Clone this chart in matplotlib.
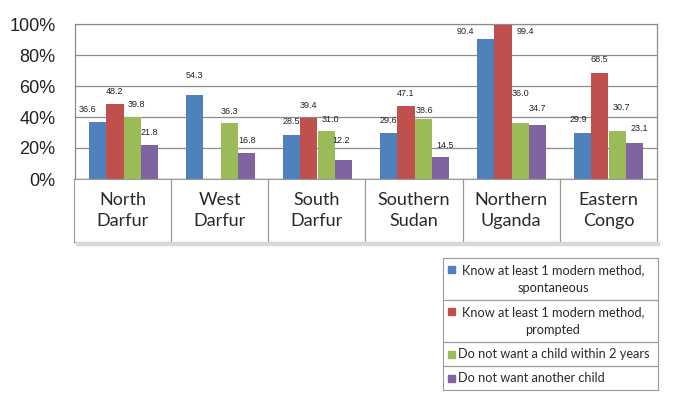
import numpy as np
import matplotlib.pyplot as plt
from matplotlib.patches import Rectangle

# data
regions = ["North\nDarfur", "West\nDarfur", "South\nDarfur",
           "Southern\nSudan", "Northern\nUganda", "Eastern\nCongo"]
know_spont = [36.6, 54.3, 28.5, 29.6, 90.4, 29.9]
know_prompt = [48.2, np.nan, 39.4, 47.1, 99.4, 68.5]
no_child_2y = [39.8, 36.3, 31.0, 38.6, 36.0, 30.7]
no_another = [21.8, 16.8, 12.2, 14.5, 34.7, 23.1]
series_names = ["Know at least 1 modern method,\nspontaneous",
                "Know at least 1 modern method,\nprompted",
                "Do not want a child within 2 years",
                "Do not want another child"]
yticks = [0, 20, 40, 60, 80, 100]

colors = ["#4F81BD", "#C0504D", "#9BBB59", "#8064A2"]
grid_c = "#8c8c8c"

# label nudges (points), a few labels sit beside the bars in the original
nudge = {(0, 4): (-14, -1), (1, 4): (16, -11), (2, 4): (0, 15), (3, 4): (0, 6),
         (0, 1): (0, 8), (2, 1): (0, 2), (0, 0): (-7, 3), (2, 0): (3, 3),
         (2, 2): (3, 2), (3, 2): (-2, 8), (0, 5): (-3, 3), (2, 5): (3, 11),
         (2, 3): (1, 0), (3, 3): (3, 2), (3, 5): (3, 4)}

fig = plt.figure(figsize=(6.85, 4.05), dpi=100)
W, H = 685, 405
ax = fig.add_axes([75 / W, (H - 179) / H, 582 / W, 155 / H])

x = np.arange(len(regions))
w = 0.18
all_series = [know_spont, know_prompt, no_child_2y, no_another]
for i, vals in enumerate(all_series):
    pos = x + (i - 1.5) * w
    ax.bar(pos, vals, w, color=colors[i], zorder=3)
    for j, v in enumerate(vals):
        if np.isnan(v):
            continue
        dx, dy = nudge.get((i, j), (0, 3))
        ax.annotate(f"{v:.1f}", (pos[j], v), xytext=(dx, dy + 3),
                    textcoords="offset points", ha="center", va="bottom",
                    fontsize=6.5, family="Liberation Sans", color="#222222",
                    annotation_clip=False)

ax.set_xlim(-0.5, len(regions) - 0.5)
ax.set_ylim(0, 100)
ax.set_yticks(yticks)
ax.set_yticklabels([f"{t}%" for t in yticks], fontsize=13,
                   family="Liberation Sans", color="#222222")
ax.set_xticks([])
ax.tick_params(axis="y", length=0, pad=14)
ax.grid(axis="y", color=grid_c, lw=0.9, zorder=0)
for s in ax.spines.values():
    s.set_color(grid_c)
    s.set_linewidth(0.9)

# category table under the plot
tab = fig.add_axes([74 / W, (H - 242) / H, 583 / W, 63 / H], sharex=ax)
tab.set_ylim(0, 1)
tab.set_xticks([])
tab.set_yticks([])
for s in tab.spines.values():
    s.set_color("#9a9a9a")
for k in range(1, len(regions)):
    tab.axvline(k - 0.5, color="#9a9a9a", lw=0.9)
for k, r in enumerate(regions):
    tab.text(k, 0.5, r, ha="center", va="center", fontsize=13,
             family="Lato", color="#2a2a2a", linespacing=1.4)
# soft shadow
fig.patches.append(Rectangle((76 / W, (H - 245) / H), 583 / W, 3 / H,
                             transform=fig.transFigure, color="#d8d8d8",
                             zorder=0))

# legend box, rows split by lines
lg = fig.add_axes([443 / W, (H - 390) / H, 215 / W, 132 / H])
lg.set_xlim(0, 215)
lg.set_ylim(132, 0)
lg.set_xticks([])
lg.set_yticks([])
for s in lg.spines.values():
    s.set_color("#9a9a9a")
rows = [(0, 42), (42, 84), (84, 108), (108, 132)]
for i, (y0, y1) in enumerate(rows):
    if i > 0:
        lg.axhline(y0, color="#9a9a9a", lw=0.9)
    two = "\n" in series_names[i]
    ym = y0 + 11 if two else (y0 + y1) / 2
    lg.add_patch(Rectangle((5, ym - 3.5), 7, 7, color=colors[i]))
    if two:
        lg.text(110, (y0 + y1) / 2, series_names[i], ha="center", va="center",
                multialignment="center", fontsize=9.2, family="Lato",
                color="#2a2a2a", linespacing=1.55)
    else:
        lg.text(15, ym, series_names[i], ha="left", va="center",
                fontsize=9.2, family="Lato", color="#2a2a2a")

fig.savefig("out.png", dpi=100)
